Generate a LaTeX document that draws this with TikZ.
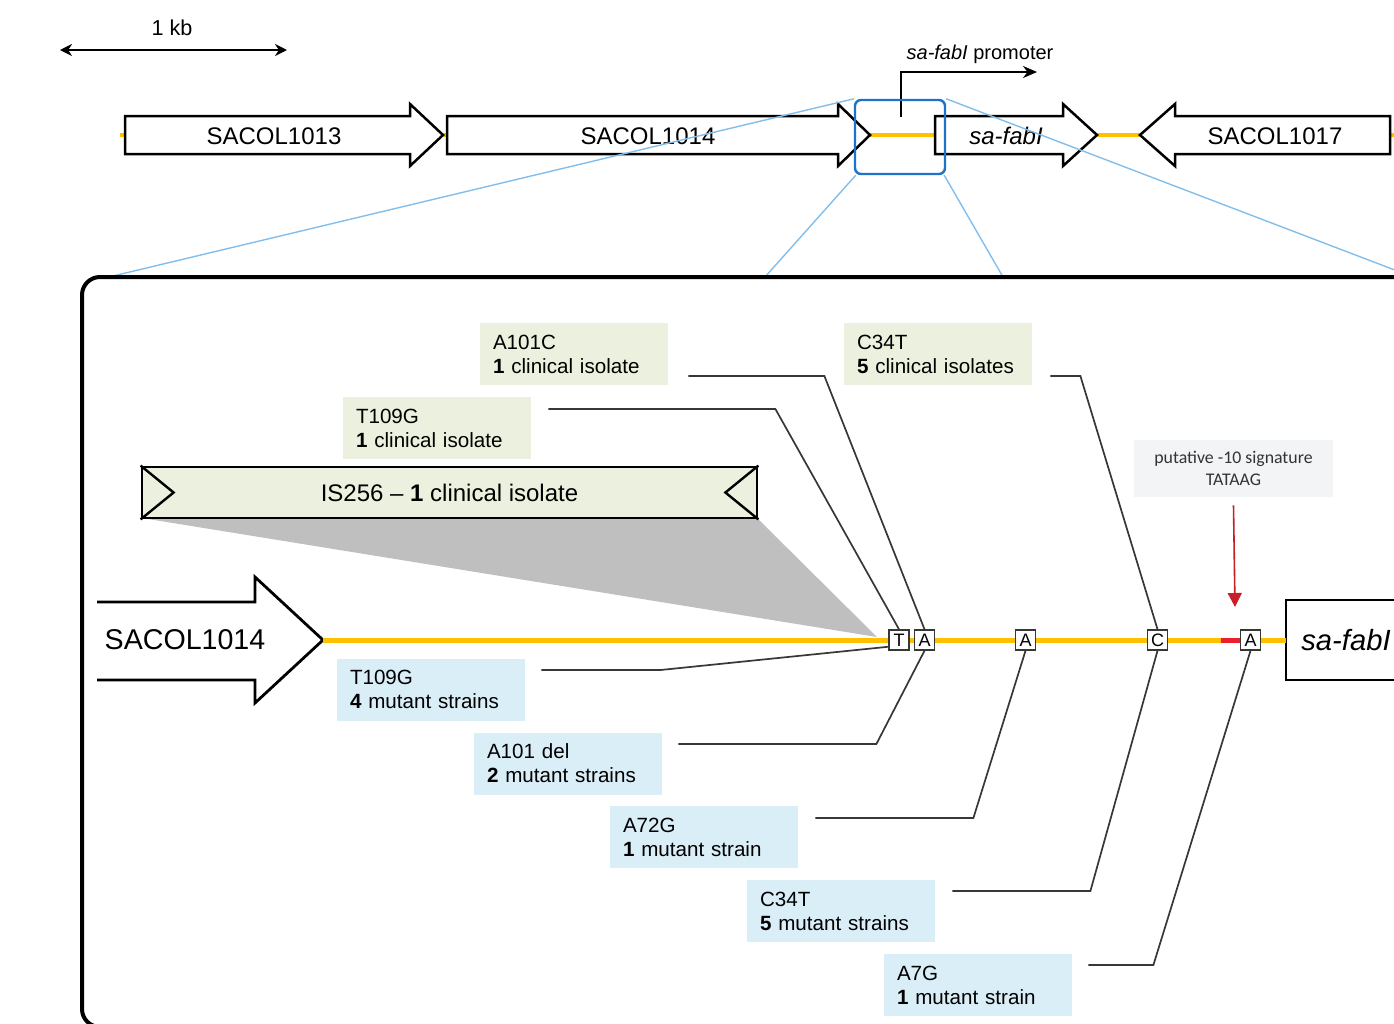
\documentclass[tikz,border=0pt]{standalone}
\usepackage{fontspec}
\setmainfont{Liberation Sans}
\newfontfamily\calibri{Carlito}
\usetikzlibrary{calc,arrows.meta}
\definecolor{gold}{RGB}{255,192,0}
\definecolor{zoomblue}{RGB}{130,190,235}
\definecolor{rectblue}{RGB}{30,115,200}
\definecolor{lgreen}{RGB}{235,241,222}
\definecolor{lblue}{RGB}{218,238,247}
\definecolor{lgray}{RGB}{243,244,246}
\definecolor{shadegray}{RGB}{191,191,191}
\definecolor{conn}{RGB}{55,55,55}
\definecolor{darkred}{RGB}{200,30,40}
\definecolor{brightred}{RGB}{235,30,45}
\tikzset{
  gene/.style={draw=black, line width=1.25pt, fill=white, line join=miter},
  genelabel/.style={font=\fontsize{12}{14}\selectfont, inner sep=0},
  infobox/.style={minimum height=31pt, text width=81pt, inner xsep=6.5pt, inner ysep=0pt, align=left, font=\fontsize{10.3}{12}\selectfont},
  gbox/.style={infobox, fill=lgreen},
  bbox/.style={infobox, fill=lblue},
  base/.style={draw=conn, line width=0.75pt, fill=white, minimum size=10pt, inner sep=0, font=\fontsize{9}{10}\selectfont},
  connector/.style={draw=conn, line width=0.85pt},
  zoomline/.style={draw=zoomblue, line width=0.7pt},
  spacer/.style={draw=gold, line width=2pt},
}
\begin{document}
\begin{tikzpicture}[x=0.5pt,y=-0.5pt]
\useasboundingbox (0,0) rectangle (1394,1024);
\clip (0,0) rectangle (1394,1024);

% scale bar
\coordinate (sbL) at (60,50);
\coordinate (sbR) at (287,50);
\draw[line width=1.2pt, {Stealth[length=6pt,width=6pt]}-{Stealth[length=6pt,width=6pt]}] (sbL) -- (sbR);
\node[font=\fontsize{10.8}{12}\selectfont] (kb) at (172,28) {1 kb};

% top intergenic spacers
\draw[spacer] (120,135) -- (125,135);
\draw[spacer] (443,135) -- (447,135);
\draw[spacer] (870,135) -- (935,135);
\draw[spacer] (1097,135) -- (1140,135);
\draw[spacer] (1390,135) -- (1398,135);

% genes
\draw[gene] (125,116) -- (410,116) -- (410,104) -- (443,135) -- (410,166) -- (410,154) -- (125,154) -- cycle;
\node[genelabel] (g1013) at (274,136) {SACOL1013};
\draw[gene] (447,116) -- (838,116) -- (838,104) -- (870,135) -- (838,166) -- (838,154) -- (447,154) -- cycle;
\node[genelabel] (g1014) at (648,136) {SACOL1014};
\draw[gene] (935,116) -- (1063,116) -- (1063,104) -- (1097,135) -- (1063,166) -- (1063,154) -- (935,154) -- cycle;
\node[genelabel] (gfab) at (1006,136) {\itshape sa-fabI};
\draw[gene] (1390,116) -- (1175,116) -- (1175,104) -- (1140,135) -- (1175,166) -- (1175,154) -- (1390,154) -- cycle;
\node[genelabel] (g1017) at (1275,136) {SACOL1017};

% promoter
\coordinate (pr0) at (901,117);
\coordinate (pr1) at (901,72);
\coordinate (pr2) at (1037,72);
\draw[line width=1.2pt, -{Stealth[length=7pt,width=6pt]}] (pr0) -- (pr1) -- (pr2);
\node[font=\fontsize{10}{12}\selectfont] (prlabel) at (980,54) {\itshape sa-fabI\/\upshape{} promoter};

% zoom box and lines
\node[draw=rectblue, line width=1.2pt, rounded corners=3pt, minimum width=45pt, minimum height=37pt, inner sep=0] (zoomrect) at (900,137) {};
\coordinate (zl1) at (113,276);
\coordinate (zl2) at (1400,272);
\coordinate (zl3) at (765,277);
\coordinate (zl4) at (1003,277);
\draw[zoomline] (zoomrect.north west) -- (zl1);
\draw[zoomline] (zoomrect.north east) -- (zl2);
\draw[zoomline] ([xshift=1pt]zoomrect.south west) -- (zl3);
\draw[zoomline] ([xshift=-1pt]zoomrect.south east) -- (zl4);

% big detail box
\draw[line width=2pt, rounded corners=9pt, fill=white] (82,277) rectangle (1460,1027);

% gray shading of insertion
\fill[fill=shadegray] (142,518) -- (757,518) -- (877,637) -- cycle;

% IS256 element
\node[draw=black, line width=1.4pt, fill=lgreen, minimum width=307.5pt, minimum height=25.5pt, inner sep=0, font=\fontsize{12}{14}\selectfont] (is) at (449.5,492.5) {IS256 -- \textbf{1} clinical isolate};
\draw[line width=1.2pt] (is.north west) -- ($(is.west)+(33,0)$) -- (is.south west);
\draw[line width=1.2pt] (is.north east) -- ($(is.east)+(-33,0)$) -- (is.south east);

% big SACOL1014 arrow and sa-fabI box
\draw[line width=1.4pt, line join=miter] (97,602) -- (255,602) -- (255,577) -- (323,640) -- (255,703) -- (255,680) -- (97,680);
\node[font=\fontsize{14.3}{16}\selectfont, inner sep=0] (big1014) at (185,640) {SACOL1014};
\coordinate (tip1014) at (323,640);
\draw[line width=1.4pt] (1420,600) -- (1286,600) -- (1286,680) -- (1420,680);
\coordinate (fabW) at (1286,640);
\node[font=\fontsize{14.6}{16}\selectfont, inner sep=0] (bigfab) at (1346,640) {\itshape sa-fabI};

% promoter line
\draw[draw=gold, line width=2.5pt] (tip1014) -- (fabW);
\draw[draw=brightred, line width=2.5pt] (1221,640) -- (1240,640);

% base boxes
\node[base] (bT) at (899,640) {T};
\node[base] (bA1) at (924.5,640) {A};
\node[base] (bA2) at (1025.5,640) {A};
\node[base] (bC) at (1157.5,640) {C};
\node[base] (bA3) at (1250.5,640) {A};

% clinical isolate labels
\node[gbox] (a101c) at (574,354) {A101C\\\textbf{1} clinical isolate};
\node[gbox] (c34tc) at (938,354) {C34T\\\textbf{5} clinical isolates};
\node[gbox] (t109gc) at (437,428) {T109G\\\textbf{1} clinical isolate};

% mutant strain labels
\node[bbox] (t109gm) at (431,689.5) {T109G\\\textbf{4} mutant strains};
\node[bbox] (a101d) at (568,763.5) {A101 del\\\textbf{2} mutant strains};
\node[bbox] (a72g) at (704,837) {A72G\\\textbf{1} mutant strain};
\node[bbox] (c34tm) at (841,911) {C34T\\\textbf{5} mutant strains};
\node[bbox] (a7g) at (978,985) {A7G\\\textbf{1} mutant strain};

% putative -10
\node[fill=lgray, minimum width=99.5pt, minimum height=28.5pt, inner sep=0, align=center, font=\calibri\fontsize{8.9}{11}\selectfont, text=black!80] (put) at (1233.5,468.5) {putative -10 signature\\TATAAG};
\coordinate (m10) at (1235,607);
\draw[draw=darkred, line width=0.8pt, -{Triangle[length=7pt,width=7pt]}] ([yshift=-4pt]put.south) -- (m10);

% connectors
\draw[connector] ($(a101c.east)+(20,22)$) -- ++(136,0) -- (bA1.north);
\draw[connector] ($(t109gc.east)+(17,-19)$) -- ++(227,0) -- (bT.north);
\draw[connector] ($(c34tc.east)+(18,22)$) -- ++(30,0) -- (bC.north);
\draw[connector] ($(t109gm.east)+(16,-19.5)$) -- ++(119,0) -- ([yshift=2pt]bT.south west);
\draw[connector] ($(a101d.east)+(16,-19.5)$) -- ++(198,0) -- (bA1.south);
\draw[connector] ($(a72g.east)+(17,-19)$) -- ++(158,0) -- (bA2.south);
\draw[connector] ($(c34tm.east)+(17,-20)$) -- ++(138,0) -- (bC.south);
\draw[connector] ($(a7g.east)+(16,-20)$) -- ++(65,0) -- (bA3.south);
\end{tikzpicture}
\end{document}
